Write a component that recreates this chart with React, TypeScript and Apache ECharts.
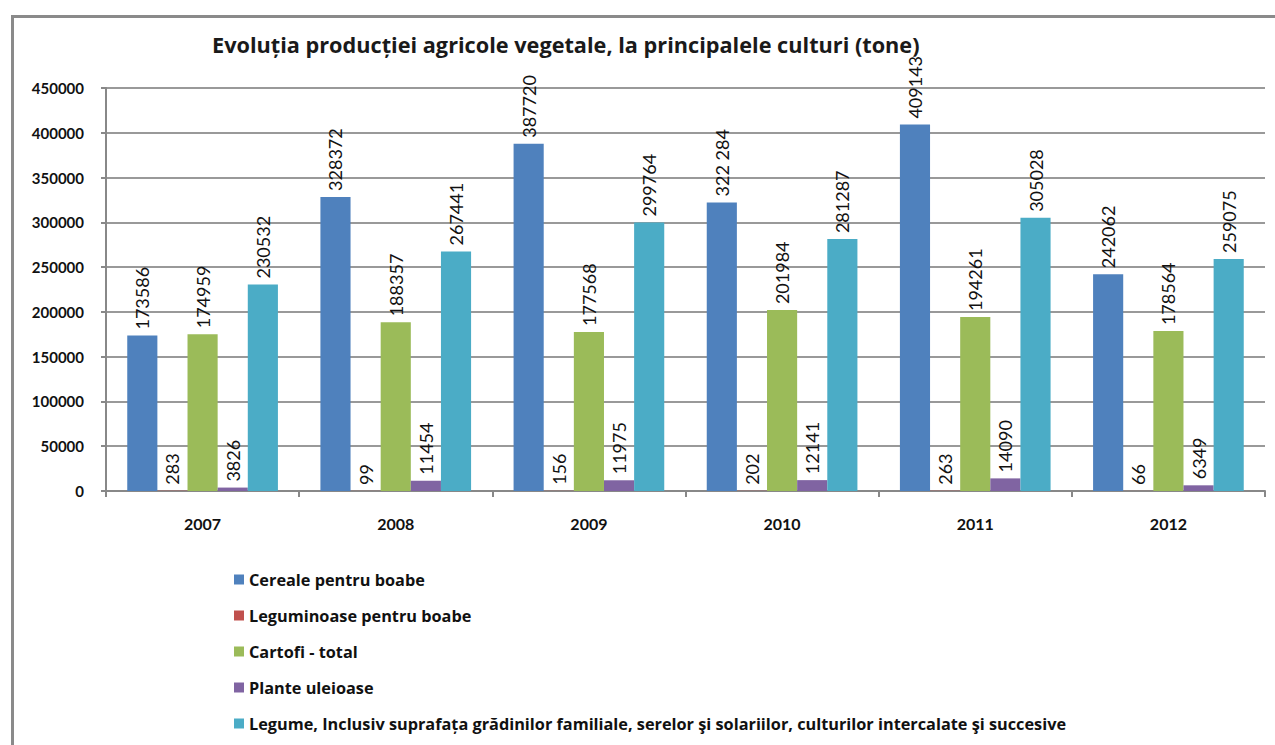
import React, { useEffect, useRef } from "react";
import * as echarts from "echarts";

const years = ["2007", "2008", "2009", "2010", "2011", "2012"];
const cereale = [173586, 328372, 387720, 322284, 409143, 242062];
const cerealeLabels = ["173586", "328372", "387720", "322 284", "409143", "242062"];
const leguminoase = [283, 99, 156, 202, 263, 66];
const cartofi = [174959, 188357, 177568, 201984, 194261, 178564];
const plante = [3826, 11454, 11975, 12141, 14090, 6349];
const legume = [230532, 267441, 299764, 281287, 305028, 259075];
const seriesNames = [
  "Cereale pentru boabe",
  "Leguminoase pentru boabe",
  "Cartofi - total",
  "Plante uleioase",
  "Legume, Inclusiv suprafața grădinilor familiale, serelor şi solariilor, culturilor intercalate şi succesive",
];
const colors = ["#4F81BD", "#C0504D", "#9BBB59", "#8064A2", "#4BACC6"];
const titleText = "Evoluția producției agricole vegetale, la principalele culturi (tone)";

const FONT = "Lato";
const WIDE = "Open Sans";

export default function App() {
  const ref = useRef<HTMLDivElement>(null);
  useEffect(() => {
    if (!ref.current) return;
    const chart = echarts.init(ref.current, null, { renderer: "svg" });
    const datasets = [cereale, leguminoase, cartofi, plante, legume];
    const series = datasets.map((d, i) => ({
      name: seriesNames[i],
      type: "bar",
      data: d,
      barGap: "0%",
      barCategoryGap: "22%",
      itemStyle: { color: colors[i] },
      label: {
        show: true,
        position: "top",
        rotate: 90,
        align: "left",
        verticalAlign: "middle",
        distance: 6,
        fontFamily: FONT,
        fontSize: 18,
        color: "#111",
        formatter: (p: any) => (i === 0 ? cerealeLabels[p.dataIndex] : String(p.value)),
      },
    }));
    chart.setOption({
      animation: false,
      backgroundColor: "#fff",
      color: colors,
      title: {
        text: titleText,
        left: 207,
        top: 28,
        textStyle: { fontFamily: WIDE, fontSize: 21.7, fontWeight: "bold", color: "#1a1a1a" },
      },
      graphic: [
        {
          type: "rect",
          left: 10,
          top: 14,
          shape: { width: 1400, height: 900 },
          style: { fill: "none", stroke: "#8a8a8a", lineWidth: 3 },
          silent: true,
        },
      ],
      legend: {
        orient: "vertical",
        left: 229,
        top: 566,
        itemWidth: 10,
        itemHeight: 10,
        itemGap: 19,
        icon: "rect",
        textStyle: { fontFamily: WIDE, fontSize: 16.3, fontWeight: "bold", color: "#111", lineHeight: 17 },
        data: seriesNames,
      },
      grid: { left: 106, right: 10, top: 88, bottom: 254 },
      xAxis: {
        type: "category",
        data: years,
        axisLine: { lineStyle: { color: "#888", width: 2 } },
        axisTick: { show: true, length: 6, lineStyle: { color: "#888", width: 2 } },
        axisLabel: { fontFamily: FONT, fontSize: 16, fontWeight: "bold", color: "#111", margin: 24 },
      },
      yAxis: {
        type: "value",
        min: 0,
        max: 450000,
        interval: 50000,
        axisLine: { show: true, lineStyle: { color: "#888", width: 2 } },
        axisTick: { show: true, length: 5, lineStyle: { color: "#888", width: 2 } },
        axisLabel: {
          fontFamily: FONT,
          fontSize: 15,
          fontWeight: "bold",
          color: "#111",
          margin: 22,
          formatter: (v: number) => String(v),
        },
        splitLine: { lineStyle: { color: "#999", width: 2 } },
      },
      series,
    });
    return () => chart.dispose();
  }, []);
  return (
    <div
      ref={ref}
      style={{ position: "fixed", left: 0, top: 0, width: 1275, height: 745 }}
    />
  );
}
